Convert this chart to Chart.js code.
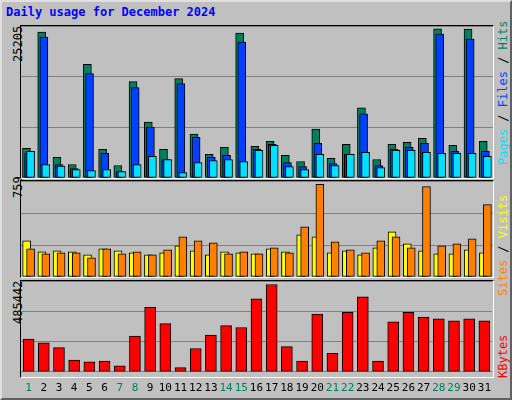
<!DOCTYPE html>
<html>
<head>
<meta charset="utf-8">
<script src="https://cdn.jsdelivr.net/npm/chart.js@4"></script>
<style>
  body { margin: 0; background: #fff; }
  #frame { position: relative; width: 508px; height: 396px; background: #c0c0c0;
    border: 2px solid; border-color: #e0e0e0 #606060 #606060 #e0e0e0; overflow: hidden; }
  .txt { position: absolute; font-family: "DejaVu Sans Mono", monospace; white-space: nowrap; }
  .rot { transform-origin: left top; transform: rotate(-90deg); }
  .panel { position: absolute; left: 18px; width: 472px; border-top: 1px solid #000; border-left: 1px solid #000;
    border-right: 1px solid #fff; border-bottom: 1px solid #fff; }
  canvas { position: absolute; left: 0; top: 0; }
</style>
</head>
<body>
<div id="frame">
  <div class="txt" style="left:4px;top:3px;font-size:12px;font-weight:bold;color:#0000ff">Daily usage for December 2024</div>
  <div class="txt rot" style="left:9px;top:60px;font-size:12px;color:#000">25205</div>
  <div class="txt rot" style="left:9px;top:196px;font-size:12px;color:#000">759</div>
  <div class="txt rot" style="left:9px;top:322px;font-size:12px;color:#000">485442</div>
  <div class="txt rot" style="left:494px;top:163px;font-size:12px"><span style="color:#00e0ff">Pages</span><span style="color:#000"> / </span><span style="color:#0040ff">Files</span><span style="color:#000"> / </span><span style="color:#00805c">Hits</span></div>
  <div class="txt rot" style="left:494px;top:294px;font-size:12px"><span style="color:#ff8000">Sites</span><span style="color:#000"> / </span><span style="color:#ffff00">Visits</span></div>
  <div class="txt rot" style="left:494px;top:376px;font-size:12px;color:#ff0000">KBytes</div>
  <div class="panel" style="top:23px;height:152px"><canvas id="c1"></canvas></div>
  <div class="panel" style="top:178px;height:96px"><canvas id="c2"></canvas></div>
  <div class="panel" style="top:278px;height:96px"><canvas id="c3"></canvas></div>
</div>
<script>
const days = Array.from({ length: 31 }, (_, i) => i + 1);
const weekend = [1, 7, 8, 14, 15, 21, 22, 28, 29];

const hits = [5016,24681,3477,2280,19209,4845,2109,16302,9462,4845,16815,7410,3990,5187,24510,5358,6213,3819,2793,8265,3306,5700,11856,3135,5700,6042,6726,25205,5529,25194,6213];
const files = [4161,23826,2280,1596,17670,4161,1083,15276,8607,3135,15960,6897,3477,3819,22971,4845,5700,2622,1938,5871,2451,3990,10830,2109,4845,5187,5871,24339,4503,23484,4503];
const pages = [4503,2280,1995,1425,1254,1425,1083,2280,3648,3135,912,2622,2964,3135,2793,4674,5529,1938,1425,3990,2109,3990,4332,1767,4674,4674,4332,4161,4161,4161,3648];
const sites = [296,206,214,206,181,230,214,197,181,197,255,214,181,206,197,189,230,206,345,329,197,214,181,238,370,271,214,189,189,222,197];
const visits = [230,189,197,197,156,230,189,206,181,222,329,296,279,189,206,189,238,197,411,759,288,222,197,296,329,238,740,255,271,312,592];
const kbytes = [182500,161250,134670,65560,54930,60250,33670,198460,357940,267570,23040,129350,203780,256940,246300,405790,485442,139990,60250,320730,102780,331360,416420,60250,278200,331360,304780,294150,283520,294150,283520];

// order: higher number is drawn first (behind)
const ds = (vals, shift, color, width, order) => ({
  data: vals.map((v, i) => ({ x: days[i] + shift, y: v })),
  backgroundColor: color, borderColor: "#000", borderWidth: 1,
  barThickness: width, grouped: false, borderSkipped: false, order,
});

function makeChart(id, w, h, datasets, yMax, withLabels) {
  const cv = document.getElementById(id);
  cv.width = w; cv.height = h;
  cv.style.width = w + "px"; cv.style.height = h + "px";
  return new Chart(cv, {
    type: "bar",
    data: { datasets },
    options: {
      responsive: false, animation: false,
      layout: { padding: 0 },
      plugins: { legend: { display: false }, tooltip: { enabled: false } },
      scales: {
        x: {
          type: "linear", min: 0.5, max: 31.5, offset: false,
          display: withLabels,
          grid: { display: false }, border: { display: false },
          afterBuildTicks: s => { s.ticks = days.map(d => ({ value: d })); },
          ticks: {
            autoSkip: false, maxRotation: 0, padding: 2,
            font: { family: "DejaVu Sans Mono", size: 11 },
            color: c => weekend.includes(days[c.index]) ? "#00805c" : "#000",
            callback: (v, i) => String(days[i]),
          },
        },
        y: {
          min: 0, max: yMax, display: true,
          ticks: { display: false, stepSize: yMax / 3 },
          border: { display: false },
          grid: { color: "#808080", lineWidth: 1, drawTicks: false },
        },
      },
    },
  });
}

makeChart("c1", 472, 152, [
  ds(hits, -0.14, "#00805c", 8, 3),
  ds(files, 0, "#0040ff", 8, 2),
  ds(pages, 0.13, "#00e0ff", 8, 1),
], 25700, false);

makeChart("c2", 472, 96, [
  ds(sites, -0.13, "#ffff00", 8, 2),
  ds(visits, 0.13, "#ff8000", 8, 1),
], 786, false);

makeChart("c3", 472, 116, [
  ds(kbytes, 0, "#ff0000", 11, 1),
], 505000, true);
</script>
</body>
</html>
